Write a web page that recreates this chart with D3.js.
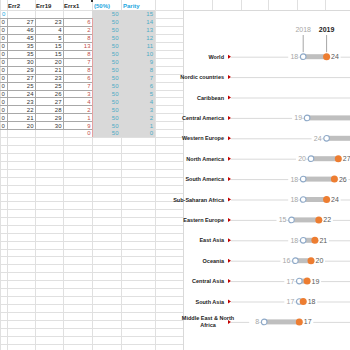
<!DOCTYPE html>
<html><head><meta charset="utf-8">
<script src="https://cdn.jsdelivr.net/npm/d3@7"></script>
<style>body{margin:0;background:#fff}svg{display:block}</style>
</head><body>
<svg id="c" width="350" height="350"></svg>
<script>
// ---- spreadsheet data ----
const headers = ["Err2","Err19","Errx1","(50%)","Parity"];
const col0 = ["0","0","0","0","0","0","0","0","0","0","0","0","0","0","0"];
const err2 = [null,27,46,45,35,35,30,29,27,25,24,23,22,21,20,null];
const err19 = [null,23,4,5,15,15,20,21,23,25,26,27,28,29,30,null];
const errx1 = [null,6,2,8,13,8,7,8,6,7,3,4,2,1,9,0];
const pct50 = [50,50,50,50,50,50,50,50,50,50,50,50,50,50,50,50];
const parity = [15,14,13,12,11,10,9,8,7,6,5,4,3,2,1,0];

// ---- chart data ----
const regions = ["World","Nordic countries","Caribbean","Central America","Western Europe","North America","South America","Sub-Saharan Africa","Eastern Europe","East Asia","Oceania","Central Asia","South Asia","Middle East & North Africa"];
const v2018 = [18,37,33,19,24,20,18,18,15,18,16,17,17,8];
const v2019 = [24,44,40,34,35,27,26,24,22,21,20,19,18,17];
const legendYears = ["2018","2019"];

const svg = d3.select("#c");
const font = "'Liberation Sans', Arial, sans-serif";
const narrow = "'Liberation Sans Narrow','Arial Narrow'," + font;
const W = 350;

// ---- sheet grid ----
const rowY = d3.scaleLinear().domain([0,1]).range([10,17.95]); // row index -> top
const colX = [0,7,35,63,92,121,155,183];
const nRows = 43;
const grid = svg.append("g").attr("stroke","#e0e0e0").attr("stroke-width",1).attr("shape-rendering","crispEdges");
for (let r=0;r<=nRows;r++){ grid.append("line").attr("x1",0).attr("x2",183).attr("y1",Math.round(rowY(r))+0.5).attr("y2",Math.round(rowY(r))+0.5); }
grid.append("line").attr("x1",0).attr("x2",W).attr("y1",10.5).attr("y2",10.5);
colX.forEach(x=>grid.append("line").attr("x1",x+0.5).attr("x2",x+0.5).attr("y1",0).attr("y2",350));
[212,241,268,297,325].forEach(x=>grid.append("line").attr("x1",x+0.5).attr("x2",x+0.5).attr("y1",0).attr("y2",10));

// gray fill
svg.append("rect").attr("x",92).attr("y",rowY(0)).attr("width",155-92).attr("height",rowY(16)-rowY(0)).attr("fill","#d9d9d9");

// table borders for data rows 1..14
const bd = svg.append("g").attr("stroke","#a8a8a8").attr("shape-rendering","crispEdges");
for (let r=1;r<=15;r++){ bd.append("line").attr("x1",0).attr("x2",92).attr("y1",Math.round(rowY(r))+0.5).attr("y2",Math.round(rowY(r))+0.5); }
[7,35,63].forEach(x=>bd.append("line").attr("x1",x+0.5).attr("x2",x+0.5).attr("y1",rowY(1)).attr("y2",rowY(15)));
svg.append("line").attr("x1",92.5).attr("x2",92.5).attr("y1",rowY(1)).attr("y2",rowY(16)).attr("stroke","#e6a0a0").attr("shape-rendering","crispEdges");
svg.append("rect").attr("x",91).attr("y",0).attr("width",2).attr("height",2).attr("fill","#333");

// header texts
const hx = [8,36,64,94,123];
const hcol = ["#222","#222","#222","#1ea7e0","#1ea7e0"];
headers.forEach((h,i)=>svg.append("text").attr("x",hx[i]).attr("y",8).attr("font-family",font).attr("font-size",6).attr("font-weight","bold").attr("fill",hcol[i]).text(h));

const cellText = (x,r,t,c,anchor)=>svg.append("text").attr("x",x).attr("y",rowY(r)+6.2).attr("text-anchor",anchor||"end")
  .attr("font-family",font).attr("font-size",6).attr("fill",c).text(t);
cellText(2,0,"0","#1ea7e0","start");
col0.slice(0,14).forEach((t,i)=>cellText(1.5,i+1,t,"#444","start"));
err2.forEach((v,i)=>{ if(v!==null) cellText(33.5,i,v,"#333"); });
err19.forEach((v,i)=>{ if(v!==null) cellText(61.5,i,v,"#333"); });
errx1.forEach((v,i)=>{ if(v!==null) cellText(90.5,i,v,"#c0504d"); });
pct50.forEach((v,i)=>cellText(118.5,i,v,"#4bacc6"));
parity.forEach((v,i)=>cellText(153,i,v,"#4bacc6"));

// ---- chart panel ----
svg.append("rect").attr("x",183.5).attr("y",10.5).attr("width",170).attr("height",345).attr("fill","#fff").attr("stroke","#d9d9d9");

const x = d3.scaleLinear().domain([0,30]).range([233,350]);
const y = d3.scalePoint().domain(regions).range([56.7, 56.7+20.4*13]);

const rows = svg.append("g").selectAll("g").data(regions).join("g").attr("transform",d=>`translate(0,${y(d)})`);
rows.append("line").attr("x1",231).attr("x2",W).attr("y1",0.5).attr("y2",0.5).attr("stroke","#d9d9d9").attr("stroke-width",1);
rows.append("path").attr("d","M228,-2 L231,0 L228,2 Z").attr("fill","#c00000");
rows.each(function(d){
  const g = d3.select(this);
  if (d === "Middle East & North Africa"){
    g.append("text").attr("x",208).attr("y",-2).attr("text-anchor","middle").attr("font-family",narrow).attr("font-size",5.5).attr("font-weight","bold").attr("fill","#222").text("Middle East & North");
    g.append("text").attr("x",208).attr("y",5.5).attr("text-anchor","middle").attr("font-family",narrow).attr("font-size",5.5).attr("font-weight","bold").attr("fill","#222").text("Africa");
  } else {
    g.append("text").attr("x",224).attr("y",2).attr("text-anchor","end").attr("font-family",narrow).attr("font-size",5.5).attr("font-weight","bold").attr("fill","#222").text(d);
  }
});
rows.each(function(d,i){
  const g = d3.select(this);
  const a = x(v2018[i]), b = x(v2019[i]);
  // dumbbell marks; the chart continues past the right edge, so marks beyond it are not shown
  if (a < W) {
    g.append("rect").attr("x",a-15).attr("y",-4).attr("width",10).attr("height",8).attr("fill","#fff");
    g.append("text").attr("x",a-5).attr("y",2.5).attr("text-anchor","end").attr("font-family",font).attr("font-size",7).attr("fill","#a6a6a6").text(v2018[i]);
    g.append("rect").attr("x",a).attr("y",-2.5).attr("width",Math.max(0,Math.min(b,W)-a)).attr("height",5).attr("fill","#bfbfbf");
    g.append("circle").attr("cx",a).attr("cy",0).attr("r",2.8).attr("fill","#fff").attr("stroke","#8ea9c8").attr("stroke-width",1.1);
  }
  if (b + 4.5 + 7 <= W) {
    g.append("rect").attr("x",b+4).attr("y",-4).attr("width",10).attr("height",8).attr("fill","#fff");
    g.append("text").attr("x",b+4.5).attr("y",2.5).attr("font-family",font).attr("font-size",7).attr("fill","#595959").text(v2019[i]);
  }
  if (b < W) g.append("circle").attr("cx",b).attr("cy",0).attr("r",3.5).attr("fill","#ed7d31");
});

// legend callouts on World
const wy = y(regions[0]);
[[v2018[0],legendYears[0],"#a6a6a6","normal"],[v2019[0],legendYears[1],"#222","bold"]].forEach(([v,t,c,w])=>{
  svg.append("text").attr("x",x(v)).attr("y",31.5).attr("text-anchor","middle").attr("font-family",font).attr("font-size",7).attr("font-weight",w).attr("fill",c).text(t);
  svg.append("line").attr("x1",x(v)).attr("x2",x(v)).attr("y1",35).attr("y2",wy-4.5).attr("stroke","#a6a6a6").attr("stroke-width",1);
});
</script>
</body></html>
